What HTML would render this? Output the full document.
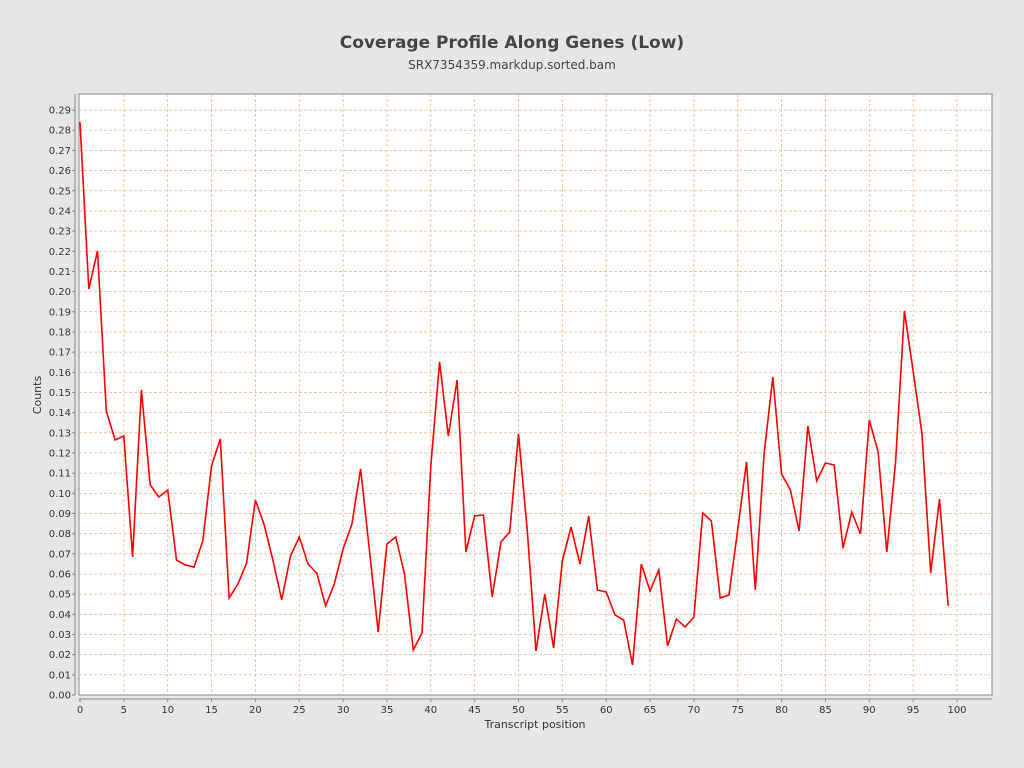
<!DOCTYPE html>
<html><head><meta charset="utf-8"><style>
body{margin:0;background:#e6e6e6;}
svg{display:block;font-family:"DejaVu Sans","Liberation Sans",sans-serif;}
</style></head><body>
<svg width="1024" height="768" viewBox="0 0 1024 768" xmlns="http://www.w3.org/2000/svg">
<rect width="1024" height="768" fill="#e6e6e6"/>
<text x="512" y="48" text-anchor="middle" font-size="17" font-weight="bold" fill="#444">Coverage Profile Along Genes (Low)</text>
<text x="512" y="69" text-anchor="middle" font-size="12" fill="#444">SRX7354359.markdup.sorted.bam</text>
<rect x="79" y="94" width="913" height="601" fill="#fff" stroke="#888"/>
<g id="grid" stroke="#f0b890" stroke-width="0.8" stroke-dasharray="3,2"></g>
<line x1="75" y1="94" x2="75" y2="695" stroke="#888"/>
<line x1="79" y1="699" x2="992" y2="699" stroke="#888"/>
<g id="yl" font-size="10" fill="#333" text-anchor="end"></g>
<g id="xl" font-size="10" fill="#333" text-anchor="middle"></g>
<text x="41" y="395" font-size="11" fill="#333" text-anchor="middle" transform="rotate(-90 41 395)">Counts</text>
<text x="535" y="728" font-size="11" fill="#333" text-anchor="middle">Transcript position</text>
<polyline id="ln" fill="none" stroke="#ff0000" stroke-width="1.6" points=""/>
</svg>
<script>
var ns="http://www.w3.org/2000/svg",g=document.getElementById('grid'),yl=document.getElementById('yl'),xl=document.getElementById('xl');
function el(p,t,a,tx){var e=document.createElementNS(ns,t);for(var k in a)e.setAttribute(k,a[k]);if(tx!==undefined)e.textContent=tx;p.appendChild(e);return e;}
var svg=document.querySelector('svg');
for(var i=0;i<=29;i++){var y=695-i*20.17;if(i>0)el(g,'line',{x1:79,x2:992,y1:y,y2:y});el(svg,'line',{x1:72,x2:75,y1:y,y2:y,stroke:'#888'});el(yl,'text',{x:71,y:y+3.5},(i/100).toFixed(2));}
for(var i=0;i<=20;i++){var x=80+i*5*8.77;if(i>0)el(g,'line',{x1:x,x2:x,y1:94,y2:695});el(svg,'line',{x1:x,x2:x,y1:699,y2:702,stroke:'#888'});el(xl,'text',{x:x,y:713},i*5);}
var ys=[122,289,251,411,440,436,557,390,485,497,490,560,565,567,541,466,439,598,584,563,500,525,560,600,556,537,564,573,606,584,549,524,469,550,632,544,537,574,650,633,466,362,436,380,552,516,515,597,542,532,434,531,651,594,648,561,527,564,516,590,592,615,620,665,564,591,570,646,619,627,617,513,521,598,595,529,462,590,454,377,474,490,531,426,481,463,465,548,512,534,420,452,552,462,311,371,433,573,499,606];
document.getElementById('ln').setAttribute('points',ys.map(function(y,i){return (80+i*8.77).toFixed(1)+','+y}).join(' '));
</script>
</body></html>
